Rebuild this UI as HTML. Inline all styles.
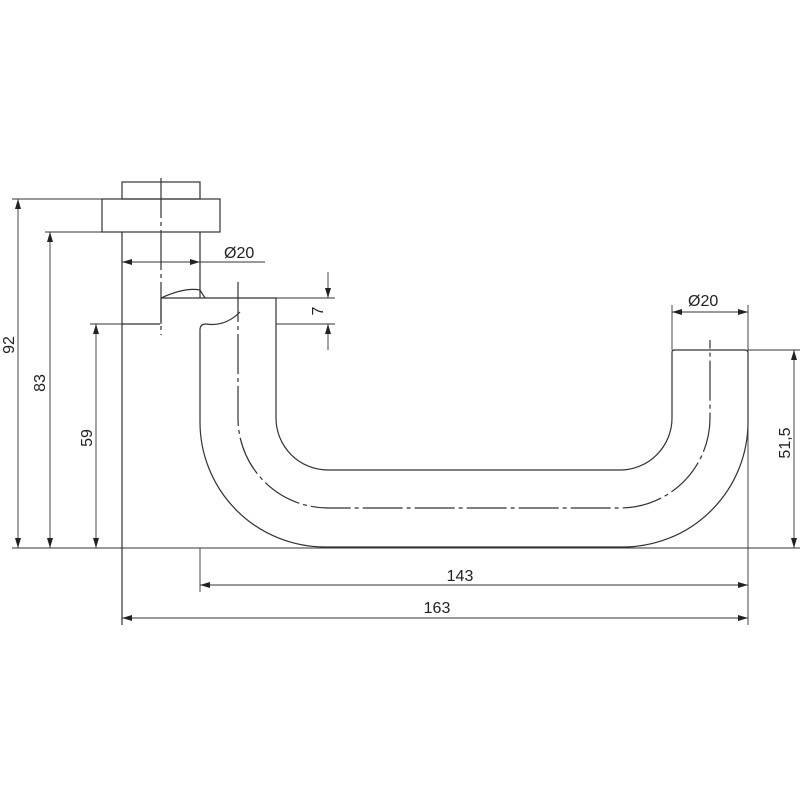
<!DOCTYPE html>
<html><head><meta charset="utf-8"><style>
html,body{margin:0;padding:0;background:#fff;}
text{font-family:"Liberation Sans",sans-serif;font-size:16px;fill:#222;}
</style></head><body>
<svg width="800" height="800" viewBox="0 0 800 800" xmlns="http://www.w3.org/2000/svg">
<defs>
<marker id="a" viewBox="0 0 10 6" refX="10" refY="3" markerWidth="10" markerHeight="6" orient="auto-start-reverse" markerUnits="userSpaceOnUse"><path d="M0,0L10,3L0,6z" fill="#222"/></marker>
</defs>
<g stroke="#333" stroke-width="1.2" fill="none">
<rect x="122" y="182" width="78" height="17"/>
<rect x="102" y="199" width="118" height="33"/>
<line x1="122" y1="232" x2="122" y2="625"/>
<line x1="200" y1="232" x2="200" y2="298"/>
<line x1="122" y1="324" x2="160" y2="324"/>
<path d="M161,298 L276,298 L276,418 A52,52 0 0 0 328,470 L620,470 A52,52 0 0 0 672,418 L672,352 Q672,350 675,350 L745,350 Q748,350 748,353 L748,422 A125,125 0 0 1 623,547 L325,547 A125,125 0 0 1 200,422 L200,330 Q200,324 206,324"/>
<line x1="161" y1="298" x2="161" y2="324"/>
<path d="M161,298 Q185,287 200,290 L205,298"/>
<path d="M206,324 Q225,327 240,312"/>
<g stroke-dasharray="40,4,4,4">
<line x1="161" y1="178" x2="161" y2="335"/>
<path d="M238,282 L238,418 A90,90 0 0 0 328,508 L620,508 A90,90 0 0 0 710,418 L710,340"/>
</g>
</g>
<g stroke="#333" stroke-width="0.9" fill="none">
<line x1="12" y1="199" x2="102" y2="199"/>
<line x1="45" y1="232" x2="102" y2="232"/>
<line x1="90" y1="324" x2="122" y2="324"/>
<line x1="12" y1="548" x2="800" y2="548"/>
<line x1="200" y1="548" x2="200" y2="592"/>
<line x1="748" y1="305" x2="748" y2="625"/>
<line x1="672" y1="305" x2="672" y2="350"/>
<line x1="748" y1="350" x2="800" y2="350"/>
<line x1="276" y1="298" x2="335" y2="298"/>
<line x1="276" y1="324" x2="335" y2="324"/>
<line x1="18" y1="199" x2="18" y2="548" marker-start="url(#a)" marker-end="url(#a)"/>
<line x1="50" y1="232" x2="50" y2="548" marker-start="url(#a)" marker-end="url(#a)"/>
<line x1="96" y1="324" x2="96" y2="548" marker-start="url(#a)" marker-end="url(#a)"/>
<line x1="200" y1="585" x2="748" y2="585" marker-start="url(#a)" marker-end="url(#a)"/>
<line x1="122" y1="618" x2="748" y2="618" marker-start="url(#a)" marker-end="url(#a)"/>
<line x1="794" y1="350" x2="794" y2="548" marker-start="url(#a)" marker-end="url(#a)"/>
<line x1="122" y1="262" x2="200" y2="262" marker-start="url(#a)" marker-end="url(#a)"/>
<line x1="200" y1="262" x2="265" y2="262"/>
<line x1="672" y1="312" x2="748" y2="312" marker-start="url(#a)" marker-end="url(#a)"/>
<line x1="328" y1="272" x2="328" y2="298" marker-end="url(#a)"/>
<line x1="328" y1="350" x2="328" y2="324" marker-end="url(#a)"/>
</g>
<text x="224" y="258">Ø20</text>
<text x="688" y="306">Ø20</text>
<text x="460" y="581" text-anchor="middle">143</text>
<text x="437" y="613" text-anchor="middle">163</text>
<text transform="translate(14,345) rotate(-90)" text-anchor="middle">92</text>
<text transform="translate(45,383) rotate(-90)" text-anchor="middle">83</text>
<text transform="translate(92,438) rotate(-90)" text-anchor="middle">59</text>
<text transform="translate(790,443) rotate(-90)" text-anchor="middle">51,5</text>
<text transform="translate(323,311) rotate(-90)" text-anchor="middle">7</text>
</svg>
</body></html>
